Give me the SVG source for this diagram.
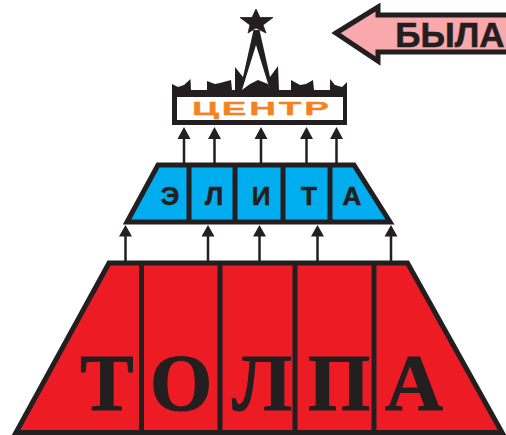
<svg xmlns="http://www.w3.org/2000/svg" width="506" height="435" viewBox="0 0 506 435">
<style>
.k{fill:#231f20}
.o{stroke:#231f20;stroke-width:5;stroke-linejoin:miter}
.d{stroke:#231f20;stroke-width:5;fill:none}
.c{stroke:#231f20;stroke-width:2.5;fill:none}
.s{font-family:"Liberation Sans",Arial,sans-serif;font-weight:700;fill:#231f20;text-anchor:middle;stroke:#231f20;stroke-width:.6}
.t{font-family:"Liberation Serif","Times New Roman",serif;font-weight:700;font-size:80px;fill:#231f20;text-anchor:middle;stroke:#231f20;stroke-width:1.2}
</style>
<rect width="506" height="435" fill="#fff"/>
<g id="connectors">
<path class="c" d="M184 165V137M214.500 165V137M261 165V137M306.500 165V137M336.500 165V137M125.500 263V235M208 263V235M259.500 263V235M317.500 263V235M391 263V235"/>
<path class="k" d="M184 127l6.500 12h-13zM214.500 127l6.500 12h-13zM261 127l6.500 12h-13zM306.500 127l6.500 12h-13zM336.500 127l6.500 12h-13zM125.500 225l6.500 11.500h-13zM208 225l6.500 11.500h-13zM259.500 225l6.500 11.500h-13zM317.500 225l6.500 11.500h-13zM391 225l6.500 11.500h-13z"/>
</g>
<g id="tolpa">
<path class="o" fill="#ed1c24" d="M109 263H407.500L502 432.500H16Z"/>
<path class="d" d="M141.500 263V433M220 263V433M295 263V433M374 263V433"/>
<text class="t" x="107" y="410">Т</text>
<text class="t" x="181" y="410">О</text>
<text class="t" x="262" y="410">Л</text>
<text class="t" x="339" y="410">П</text>
<text class="t" x="414" y="410">А</text>
</g>
<g id="elita">
<path class="o" fill="#00aeef" d="M158 165H354L390 222H127Z"/>
<path class="d" d="M189 165V222M235 165V222M283 165V222M330 165V222"/>
<text class="s" font-size="26" x="170" y="205">Э</text>
<text class="s" font-size="26" x="214" y="205">Л</text>
<text class="s" font-size="26" x="261" y="205">И</text>
<text class="s" font-size="26" x="309" y="205">Т</text>
<text class="s" font-size="26" x="352" y="205">А</text>
</g>
<g id="centr">
<path class="k" d="M172 84L178 87L184 85L190.500 79L191 90H207V81L215 84L220 83L231 80L232 90H235L235 67L243 77L253.500 30H259.500L270 77L278 66L279 90H291V80L300 85L306 84L313 80L314 90H330V79L335 85L342 87L347 82V125H172Z"/>
<path fill="#fff" d="M177 97H343V120H177Z"/>
<path fill="#fff" d="M242 90L256 45L270 90L268 84L258 80L250 84Z"/>
<path class="k" stroke="#231f20" stroke-width=".8" d="M256 9L260 17.500L273 17.500L263 25L266 33L256 28L248 33L250 25L240 17.500L252 17.500Z"/>
<text transform="translate(192 115) scale(2 1)" font-family="Liberation Sans, Arial, sans-serif" font-weight="700" font-size="18.500" letter-spacing="1.400" fill="#f58220" stroke="#f58220" stroke-width=".3">ЦЕНТР</text>
</g>
<g id="byla">
<path class="o" fill="#f9a8ac" d="M336 33L378 7V15H510V52H378V61Z"/>
<text class="s" font-size="35" x="450" y="46.500">БЫЛА</text>
</g>
</svg>
